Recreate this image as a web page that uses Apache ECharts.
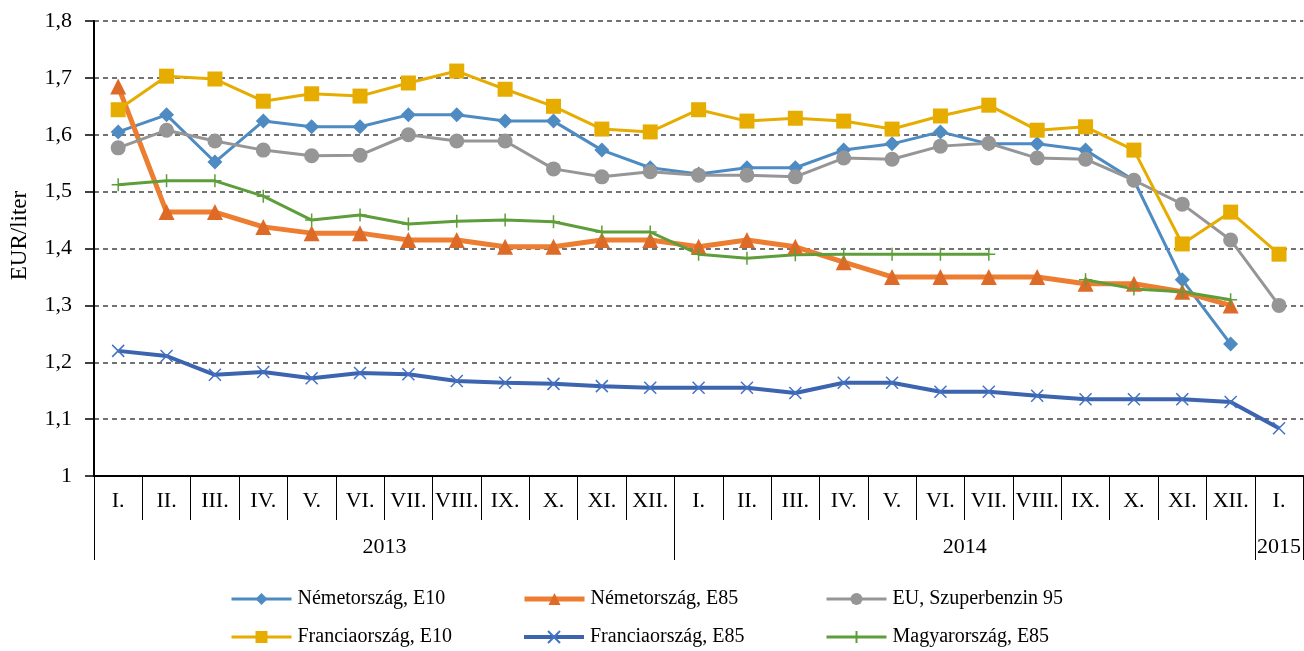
<!DOCTYPE html>
<html>
<head>
<meta charset="utf-8">
<script src="https://cdn.jsdelivr.net/npm/echarts@6/dist/echarts.min.js"></script>
<style>
html, body { margin: 0; padding: 0; background: #fff; }
#main { width: 1304px; height: 651px; }
</style>
</head>
<body>
<div id="main"></div>
<script>
// months, then year labels under them
var months = ['I.','II.','III.','IV.','V.','VI.','VII.','VIII.','IX.','X.','XI.','XII.',
              'I.','II.','III.','IV.','V.','VI.','VII.','VIII.','IX.','X.','XI.','XII.','I.'];
var years = ['','','','','','','2013','','','','','','','','','','','','2014','','','','','','2015'];

var deE10 = [1.605,1.635,1.552,1.624,1.614,1.614,1.635,1.635,1.624,1.624,1.573,1.542,
             1.531,1.542,1.542,1.573,1.584,1.605,1.584,1.584,1.573,1.52,1.345,1.232,null];
var deE85 = [1.685,1.464,1.464,1.438,1.427,1.427,1.415,1.415,1.403,1.403,1.415,1.415,
             1.403,1.415,1.403,1.376,1.35,1.35,1.35,1.35,1.338,1.338,1.324,1.30,null];
var euSuper95 = [1.577,1.608,1.589,1.573,1.563,1.564,1.6,1.589,1.589,1.54,1.526,1.535,
                 1.529,1.529,1.526,1.559,1.557,1.58,1.585,1.559,1.557,1.52,1.478,1.415,1.30];
var frE10 = [1.644,1.703,1.698,1.659,1.672,1.668,1.691,1.712,1.68,1.65,1.61,1.605,
             1.644,1.624,1.629,1.624,1.61,1.633,1.652,1.608,1.614,1.573,1.408,1.464,1.39];
var frE85 = [1.22,1.211,1.178,1.183,1.172,1.181,1.179,1.167,1.164,1.162,1.158,1.155,
             1.155,1.155,1.146,1.164,1.164,1.148,1.148,1.141,1.135,1.135,1.135,1.13,1.084];
var huE85 = [1.512,1.519,1.519,1.492,1.45,1.459,1.443,1.448,1.45,1.447,1.429,1.429,
             1.39,1.383,1.389,1.39,1.39,1.39,1.39,null,1.345,1.329,1.324,1.31,null];

var font = 'Liberation Serif';
var myChart = echarts.init(document.getElementById('main'));

var crossPath = 'path://M0,0 L10,10 M10,0 L0,10';
var plusPath = 'path://M5,0 L5,10 M0,5 L10,5';

// one legend per item so the 3x2 grid sits where it should
function legendItem(left, top, name) {
    return {
        left: left, top: top, padding: 0,
        itemWidth: 60, itemHeight: 15, itemGap: 6,
        lineStyle: { width: 'inherit' },
        textStyle: { fontFamily: font, fontSize: 20, lineHeight: 20, color: '#000', padding: [0, 0, 0, 1] },
        data: [name]
    };
}

var option = {
    animation: false,
    grid: { left: 94, right: 0, top: 21, bottom: 175 },
    legend: [
        legendItem(230, 589, 'Németország, E10'),
        legendItem(522, 589, 'Németország, E85'),
        legendItem(825, 589, 'EU, Szuperbenzin 95'),
        legendItem(230, 627, 'Franciaország, E10'),
        legendItem(522, 627, 'Franciaország, E85'),
        legendItem(825, 627, 'Magyarország, E85')
    ],
    xAxis: [
        {
            type: 'category', data: months, position: 'bottom',
            axisLine: { lineStyle: { color: '#000', width: 2 } },
            axisTick: { show: true, interval: 0, length: 44, lineStyle: { color: '#000', width: 1 } },
            axisLabel: { interval: 0, margin: 14, fontFamily: font, fontSize: 22, color: '#000' },
            splitLine: { show: false }
        },
        {
            type: 'category', data: years, position: 'bottom',
            axisLine: { show: false },
            axisTick: {
                show: true, length: 84, lineStyle: { color: '#000', width: 1 },
                interval: function (i) { return i === 0 || i === 12 || i === 24; }
            },
            axisLabel: {
                interval: 0, margin: 60, fontFamily: font, fontSize: 22, color: '#000',
                formatter: function (v) {
                    if (v === '2015') return v;
                    return v ? '{s|' + v + '}' : '';
                },
                rich: { s: { fontFamily: font, fontSize: 22, color: '#000', padding: [0, 48, 0, 0] } }
            }
        }
    ],
    yAxis: {
        type: 'value', min: 1, max: 1.8, interval: 0.1,
        name: 'EUR/liter', nameLocation: 'middle', nameGap: 63,
        nameTextStyle: { fontFamily: font, fontSize: 23, color: '#000', padding: [0, 0, 0, 26] },
        axisLine: { show: true, lineStyle: { color: '#000', width: 2 } },
        axisTick: { show: true, length: 9, lineStyle: { color: '#000', width: 1.5 } },
        axisLabel: {
            margin: 22, fontFamily: font, fontSize: 22, color: '#000',
            formatter: function (v) { return String(Math.round(v * 10) / 10).replace('.', ','); }
        },
        splitLine: { lineStyle: { color: '#444', type: [5, 4], width: 1.5 } }
    },
    series: [
        {
            name: 'Németország, E10', type: 'line', data: deE10,
            symbol: 'diamond', symbolSize: 15,
            lineStyle: { color: '#4E8BC2', width: 3 },
            itemStyle: { color: '#4E8BC2' }
        },
        {
            name: 'Németország, E85', type: 'line', data: deE85,
            symbol: 'triangle', symbolSize: 16,
            lineStyle: { color: '#ED7D31', width: 5 },
            itemStyle: { color: '#DE6A28' }
        },
        {
            name: 'EU, Szuperbenzin 95', type: 'line', data: euSuper95,
            symbol: 'circle', symbolSize: 15,
            lineStyle: { color: '#969696', width: 3 },
            itemStyle: { color: '#969696' }
        },
        {
            name: 'Franciaország, E10', type: 'line', data: frE10,
            symbol: 'rect', symbolSize: 15,
            lineStyle: { color: '#E6AC00', width: 3 },
            itemStyle: { color: '#E6AC00' }
        },
        {
            name: 'Franciaország, E85', type: 'line', data: frE85,
            symbol: crossPath, symbolSize: 12,
            lineStyle: { color: '#3D64AE', width: 4 },
            itemStyle: { color: 'none', borderColor: '#4472C4', borderWidth: 1.5 }
        },
        {
            name: 'Magyarország, E85', type: 'line', data: huE85,
            symbol: plusPath, symbolSize: 13,
            lineStyle: { color: '#5E9E3A', width: 3 },
            itemStyle: { color: 'none', borderColor: '#5E9E3A', borderWidth: 1.5 }
        }
    ]
};

myChart.setOption(option);
</script>
</body>
</html>
